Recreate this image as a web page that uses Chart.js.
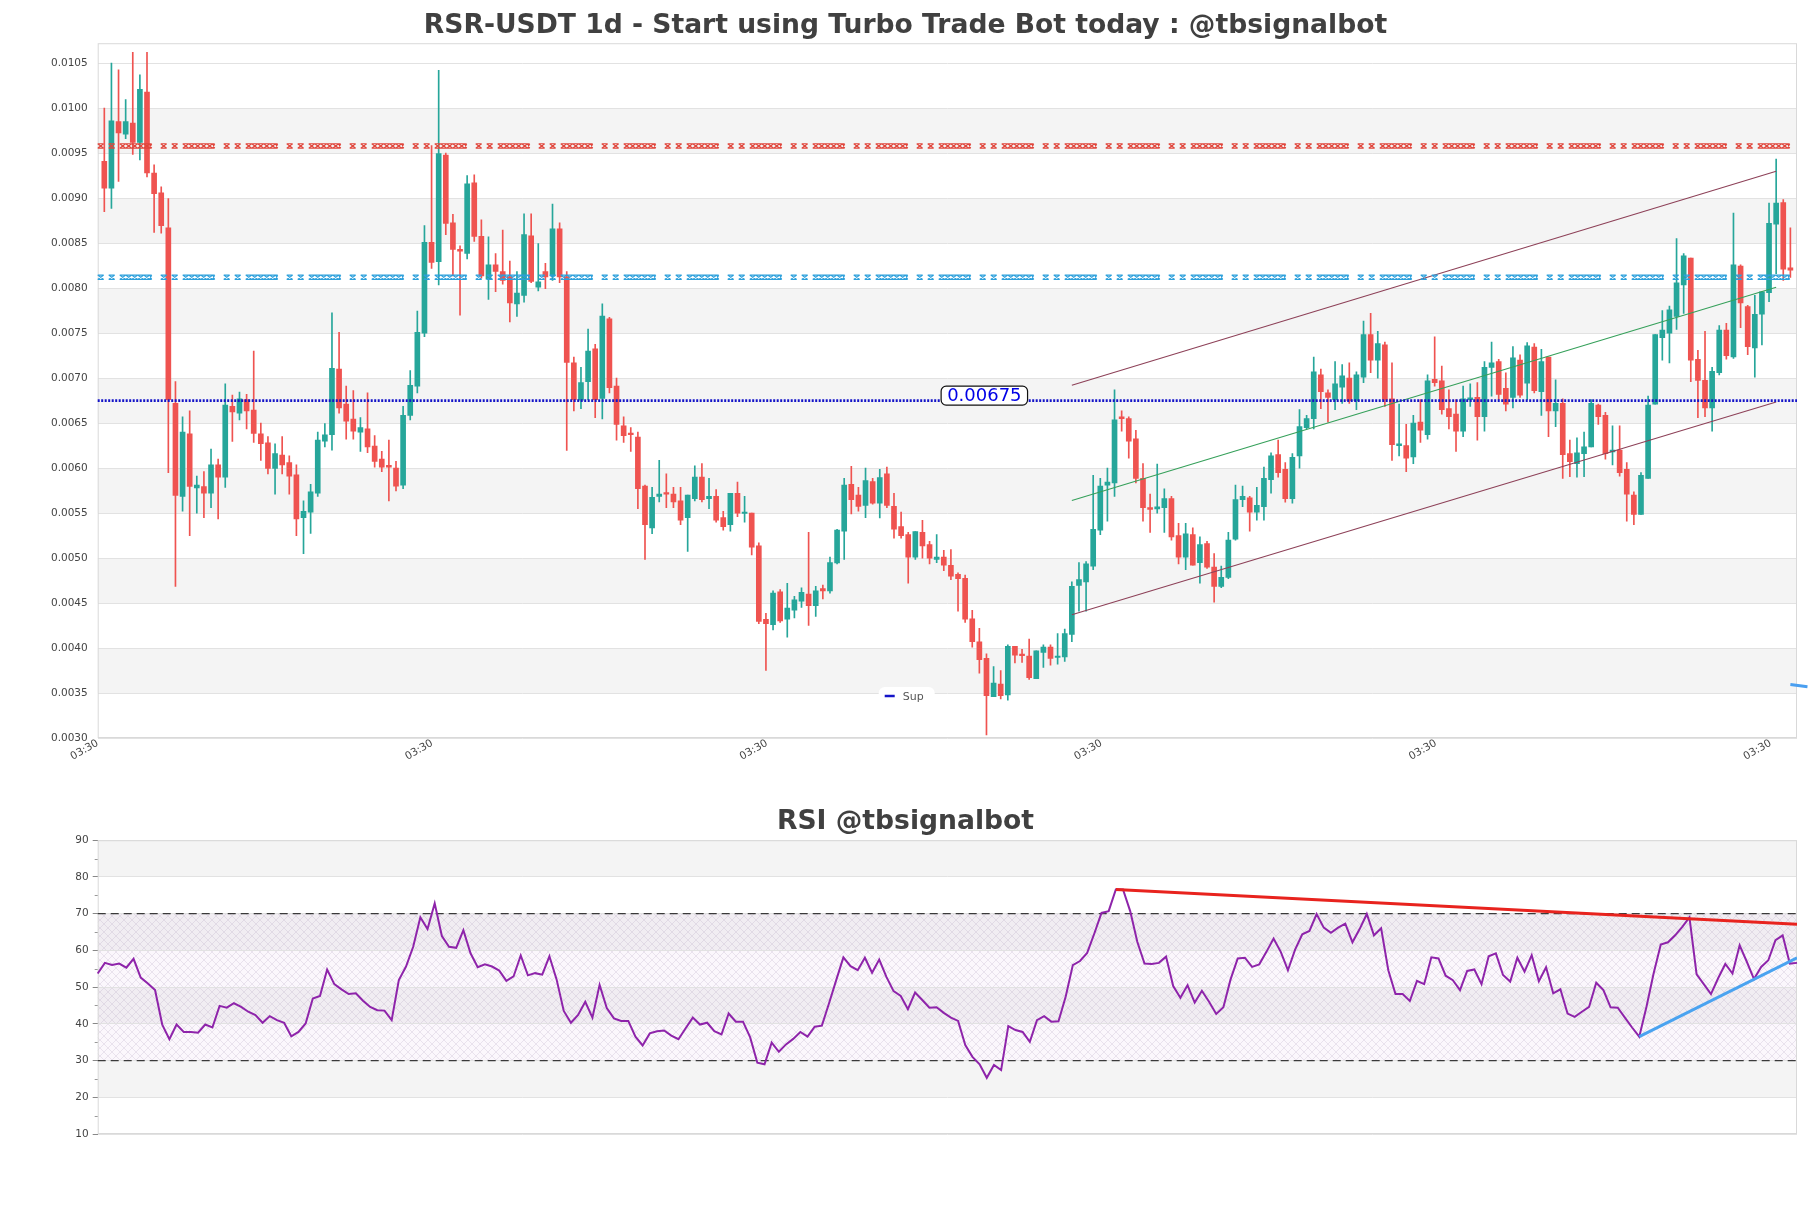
<!DOCTYPE html>
<html>
<head>
<meta charset="utf-8">
<title>RSR-USDT 1d</title>
<script src="https://cdn.jsdelivr.net/npm/chart.js@4.4.0/dist/chart.umd.min.js"></script>
<style>
  html, body { margin: 0; padding: 0; background: #fff; }
  #wrap { position: relative; width: 1811px; height: 1208px; }
  canvas { position: absolute; left: 0; }
</style>
</head>
<body>
<div id="wrap">
  <canvas id="priceChart" width="1811" height="780" style="top:0"></canvas>
  <canvas id="rsiChart" width="1811" height="428" style="top:780px"></canvas>
</div>
<script>
const UP = '#26a69a';
const DOWN = '#ef5350';

const opens = [
  0.00941, 0.00911, 0.00985, 0.00971, 0.009835, 0.00962, 0.01018, 0.00928, 0.00906, 0.00867,
  0.00672, 0.005685, 0.00638, 0.00578, 0.005795, 0.00572, 0.006035, 0.0059, 0.006685, 0.00661,
  0.00676, 0.006645, 0.00638, 0.00628, 0.005995, 0.006145, 0.00606, 0.005925, 0.00545, 0.00551,
  0.00572, 0.0063, 0.00637, 0.0071, 0.00671, 0.006545, 0.0064, 0.006435, 0.006245, 0.0061,
  0.00603, 0.006, 0.00581, 0.006585, 0.00691, 0.0075, 0.00851, 0.008295, 0.00948, 0.008725,
  0.00843, 0.008385, 0.00917, 0.008575, 0.0081, 0.00826, 0.008185, 0.008125, 0.007825, 0.00792,
  0.00858, 0.00801, 0.008185, 0.008135, 0.00866, 0.008125, 0.00717, 0.006755, 0.00696, 0.007325,
  0.006775, 0.00766, 0.00691, 0.00647, 0.00639, 0.006345, 0.0058, 0.005335, 0.005685, 0.00572,
  0.00571, 0.005635, 0.00545, 0.00566, 0.0059, 0.00566, 0.005685, 0.00545, 0.00537, 0.00572,
  0.005495, 0.0055, 0.005135, 0.00432, 0.00426, 0.004625, 0.00432, 0.00442, 0.00452, 0.0046,
  0.00447, 0.00466, 0.004635, 0.004945, 0.0053, 0.00582, 0.0057, 0.005585, 0.00585, 0.00561,
  0.005935, 0.005575, 0.00535, 0.00526, 0.00501, 0.005285, 0.00515, 0.004985, 0.00501, 0.00492,
  0.00482, 0.004775, 0.004325, 0.00407, 0.003885, 0.00346, 0.0036, 0.00348, 0.00402, 0.00393,
  0.00391, 0.00366, 0.00395, 0.00401, 0.003895, 0.0039, 0.00415, 0.004695, 0.004735, 0.00491,
  0.00531, 0.00581, 0.005835, 0.00657, 0.00655, 0.006325, 0.005885, 0.00556, 0.005545, 0.00556,
  0.00566, 0.00525, 0.00501, 0.00526, 0.00495, 0.00516, 0.0049, 0.004685, 0.004785, 0.00521,
  0.00565, 0.00567, 0.00551, 0.00557, 0.00587, 0.00615, 0.005985, 0.00566, 0.006135, 0.00645,
  0.00655, 0.007035, 0.006835, 0.00676, 0.0069, 0.007, 0.00675, 0.00701, 0.007485, 0.0072,
  0.00737, 0.00677, 0.00625, 0.00625, 0.006125, 0.00651, 0.00637, 0.006985, 0.00697, 0.00666,
  0.0066, 0.00641, 0.00676, 0.006785, 0.00657, 0.00712, 0.007185, 0.006885, 0.006785, 0.0072,
  0.006945, 0.007345, 0.00685, 0.007235, 0.006635, 0.00672, 0.00616, 0.00605, 0.00616, 0.006235,
  0.0067, 0.006585, 0.00618, 0.0062, 0.005985, 0.0057, 0.005485, 0.005885, 0.00671, 0.00745,
  0.0075, 0.007685, 0.008035, 0.008335, 0.00721, 0.006975, 0.00667, 0.00706, 0.007535, 0.007235,
  0.008245, 0.007795, 0.007335, 0.00771, 0.00795, 0.00871, 0.00895, 0.008225
];
const highs = [
  0.0100, 0.0105, 0.010425, 0.010095, 0.01062, 0.01037, 0.01062, 0.00937, 0.009125, 0.008995,
  0.00696, 0.00657, 0.006635, 0.00591, 0.00596, 0.00621, 0.0061, 0.006935, 0.00681, 0.006845,
  0.00682, 0.0073, 0.0065, 0.00635, 0.00627, 0.00635, 0.006135, 0.006035, 0.005635, 0.00582,
  0.0064, 0.006495, 0.007725, 0.00751, 0.00691, 0.00686, 0.00656, 0.006835, 0.00636, 0.006185,
  0.00631, 0.006075, 0.006685, 0.007085, 0.007745, 0.008695, 0.009585, 0.01042, 0.0095, 0.00882,
  0.00847, 0.00925, 0.00926, 0.00876, 0.00857, 0.008385, 0.008645, 0.0083, 0.008185, 0.008825,
  0.008825, 0.008495, 0.008275, 0.008935, 0.008725, 0.008185, 0.007235, 0.00712, 0.007545, 0.007375,
  0.007825, 0.007675, 0.0070, 0.00657, 0.00645, 0.0064, 0.00581, 0.005785, 0.006085, 0.005935,
  0.005785, 0.005785, 0.0057, 0.006025, 0.00605, 0.005885, 0.00576, 0.00552, 0.00572, 0.005845,
  0.005685, 0.0055, 0.00517, 0.004385, 0.004635, 0.00465, 0.00472, 0.004575, 0.00467, 0.005285,
  0.004685, 0.0047, 0.00501, 0.00532, 0.005885, 0.00602, 0.005785, 0.0060, 0.005885, 0.005985,
  0.00601, 0.00572, 0.00551, 0.005285, 0.005295, 0.00542, 0.005185, 0.00526, 0.005085, 0.005095,
  0.004835, 0.00481, 0.00442, 0.00422, 0.003935, 0.003795, 0.00375, 0.004035, 0.00402, 0.003985,
  0.0041, 0.00397, 0.004035, 0.004035, 0.00416, 0.00421, 0.004735, 0.00495, 0.00496, 0.00592,
  0.005885, 0.0060, 0.00687, 0.006635, 0.00657, 0.00642, 0.00605, 0.00571, 0.006045, 0.00577,
  0.005685, 0.005385, 0.005385, 0.005335, 0.005235, 0.005185, 0.00505, 0.00491, 0.005285, 0.00581,
  0.0058, 0.005685, 0.005785, 0.00601, 0.00617, 0.00631, 0.00606, 0.00616, 0.00665, 0.006585,
  0.007235, 0.0071, 0.00687, 0.007185, 0.00715, 0.00717, 0.00707, 0.007635, 0.00772, 0.00752,
  0.0074, 0.00717, 0.00671, 0.006485, 0.006585, 0.00676, 0.007035, 0.00746, 0.007135, 0.00687,
  0.00676, 0.00691, 0.006935, 0.00695, 0.007185, 0.0074, 0.00721, 0.00706, 0.00735, 0.00726,
  0.007395, 0.007385, 0.00732, 0.007235, 0.00698, 0.00677, 0.00631, 0.006335, 0.0064, 0.00676,
  0.00671, 0.00662, 0.00647, 0.00647, 0.00606, 0.005735, 0.00595, 0.0068, 0.007485, 0.00775,
  0.0078, 0.00855, 0.008385, 0.008335, 0.00731, 0.00752, 0.00712, 0.007585, 0.00761, 0.008835,
  0.00826, 0.00781, 0.00792, 0.00796, 0.008945, 0.009435, 0.008985, 0.00867
];
const lows = [
  0.00885, 0.008885, 0.009185, 0.00966, 0.009485, 0.009425, 0.009235, 0.00862, 0.00861, 0.00595,
  0.004685, 0.00552, 0.00525, 0.0055, 0.00545, 0.00556, 0.005435, 0.005785, 0.006295, 0.006535,
  0.006435, 0.006285, 0.006085, 0.005935, 0.00571, 0.005935, 0.00571, 0.00525, 0.00505, 0.005275,
  0.005685, 0.006235, 0.0062, 0.00661, 0.00632, 0.00632, 0.006185, 0.00617, 0.00601, 0.00596,
  0.005635, 0.005745, 0.00577, 0.006535, 0.006835, 0.00746, 0.00822, 0.008035, 0.008595, 0.008135,
  0.0077, 0.008325, 0.00852, 0.00811, 0.007875, 0.00796, 0.008045, 0.007625, 0.007685, 0.007845,
  0.00806, 0.00797, 0.007995, 0.008085, 0.00806, 0.006195, 0.006635, 0.00666, 0.00676, 0.00656,
  0.006545, 0.006835, 0.00631, 0.006285, 0.006185, 0.00555, 0.004985, 0.00527, 0.005625, 0.00556,
  0.00556, 0.00537, 0.005075, 0.005635, 0.005625, 0.00555, 0.0054, 0.00531, 0.0053, 0.00546,
  0.0054, 0.005035, 0.00427, 0.00375, 0.0042, 0.004285, 0.00412, 0.004335, 0.00445, 0.00425,
  0.00435, 0.004545, 0.00461, 0.004935, 0.004985, 0.00549, 0.00552, 0.00545, 0.0056, 0.005445,
  0.00556, 0.00522, 0.00522, 0.00472, 0.004985, 0.0050, 0.004935, 0.00495, 0.00486, 0.00476,
  0.00441, 0.004285, 0.00401, 0.00372, 0.003035, 0.00346, 0.003435, 0.00342, 0.003835, 0.00384,
  0.00365, 0.00366, 0.003785, 0.00381, 0.00382, 0.00385, 0.00407, 0.00441, 0.00441, 0.00487,
  0.00526, 0.00541, 0.005685, 0.00641, 0.00611, 0.005835, 0.00541, 0.005285, 0.0055, 0.005285,
  0.0052, 0.004935, 0.00487, 0.00492, 0.00472, 0.004885, 0.00451, 0.00467, 0.00477, 0.0052,
  0.00557, 0.0053, 0.00542, 0.00542, 0.00572, 0.0059, 0.00562, 0.00561, 0.0060, 0.006435,
  0.006435, 0.00666, 0.00651, 0.00665, 0.00672, 0.00672, 0.00665, 0.00695, 0.00706, 0.0070,
  0.006685, 0.006085, 0.006135, 0.00596, 0.00605, 0.006285, 0.00632, 0.00691, 0.0066, 0.006435,
  0.006185, 0.00635, 0.006685, 0.00631, 0.00641, 0.0068, 0.00676, 0.006635, 0.00667, 0.006785,
  0.00676, 0.006835, 0.006585, 0.00635, 0.00646, 0.005885, 0.005905, 0.0059, 0.005905, 0.006235,
  0.006485, 0.0061, 0.006035, 0.00591, 0.00541, 0.00537, 0.005485, 0.005885, 0.00671, 0.0072,
  0.00717, 0.00754, 0.00772, 0.00696, 0.00656, 0.00657, 0.00641, 0.007035, 0.00721, 0.00722,
  0.00756, 0.00726, 0.00701, 0.00737, 0.00785, 0.00816, 0.008085, 0.00812
];
const closes = [
  0.00911, 0.00986, 0.009725, 0.00985, 0.00962, 0.01021, 0.00928, 0.00905, 0.008695, 0.00676,
  0.005695, 0.0064, 0.005795, 0.00581, 0.00572, 0.006035, 0.0059, 0.0067, 0.006625, 0.00677,
  0.006635, 0.006385, 0.00627, 0.005995, 0.00616, 0.006035, 0.00591, 0.005435, 0.00552, 0.005735,
  0.00631, 0.00637, 0.00711, 0.00667, 0.00652, 0.00641, 0.00645, 0.006235, 0.006075, 0.00601,
  0.00601, 0.0058, 0.006585, 0.00692, 0.00751, 0.00851, 0.008285, 0.009495, 0.00872, 0.00843,
  0.00841, 0.00916, 0.008575, 0.008135, 0.00826, 0.008185, 0.008085, 0.007835, 0.007945, 0.008595,
  0.008075, 0.00807, 0.008125, 0.00866, 0.008125, 0.007175, 0.00676, 0.00695, 0.0073, 0.00676,
  0.00769, 0.006895, 0.006485, 0.00636, 0.00637, 0.00577, 0.00537, 0.005675, 0.00571, 0.00571,
  0.005625, 0.00542, 0.0057, 0.0059, 0.00565, 0.005685, 0.00542, 0.00535, 0.00572, 0.0055,
  0.00551, 0.00512, 0.004295, 0.00427, 0.00461, 0.0043, 0.004445, 0.004535, 0.00462, 0.00447,
  0.004635, 0.004635, 0.00495, 0.00531, 0.00581, 0.00565, 0.005575, 0.00586, 0.00561, 0.005895,
  0.005585, 0.00532, 0.00525, 0.00501, 0.005295, 0.005135, 0.0050, 0.00501, 0.00492, 0.0048,
  0.00477, 0.00432, 0.00407, 0.00387, 0.00347, 0.00361, 0.00347, 0.00402, 0.00392, 0.003915,
  0.00367, 0.00397, 0.00401, 0.003885, 0.00391, 0.00416, 0.004685, 0.00476, 0.004935, 0.00532,
  0.0058, 0.005845, 0.006535, 0.00655, 0.0063, 0.005885, 0.00556, 0.00554, 0.00557, 0.00566,
  0.005235, 0.00501, 0.00527, 0.00492, 0.00515, 0.0049, 0.004685, 0.004785, 0.0052, 0.00565,
  0.005685, 0.00551, 0.005585, 0.005885, 0.006135, 0.00595, 0.00566, 0.00612, 0.00646, 0.00655,
  0.00707, 0.00685, 0.006785, 0.006935, 0.007025, 0.00675, 0.007035, 0.007485, 0.0072, 0.007385,
  0.00676, 0.00626, 0.00627, 0.00611, 0.0065, 0.00642, 0.00697, 0.00695, 0.00665, 0.00657,
  0.00641, 0.00677, 0.00678, 0.00657, 0.00712, 0.00717, 0.00682, 0.00671, 0.007225, 0.00681,
  0.00736, 0.00686, 0.007185, 0.006635, 0.00672, 0.00615, 0.00607, 0.00617, 0.006235, 0.00672,
  0.00657, 0.00616, 0.0062, 0.00595, 0.00571, 0.005485, 0.00592, 0.0067, 0.007485, 0.007535,
  0.00776, 0.00806, 0.00836, 0.0072, 0.006975, 0.00667, 0.007075, 0.007535, 0.00725, 0.00826,
  0.007835, 0.00735, 0.00771, 0.00796, 0.00872, 0.008945, 0.00821, 0.0082
];

const rsiValues = [
  53.7, 56.6, 56.0, 56.4, 55.3, 57.7, 52.6, 51.0, 49.2, 39.8,
  35.8, 39.8, 37.8, 37.8, 37.6, 39.8, 39.0, 44.9, 44.4, 45.6,
  44.6, 43.3, 42.4, 40.3, 42.1, 41.0, 40.3, 36.6, 37.8, 40.1,
  46.9, 47.6, 54.8, 50.8, 49.4, 48.1, 48.3, 46.3, 44.6, 43.7,
  43.6, 41.0, 51.9, 55.6, 61.0, 69.0, 65.8, 72.8, 63.9, 61.0,
  60.7, 65.5, 59.2, 55.4, 56.2, 55.6, 54.5, 51.7, 52.9, 58.6,
  53.2, 53.8, 53.4, 58.4, 52.1, 43.5, 40.3, 42.4, 46.0, 41.7,
  50.6, 44.3, 41.5, 40.8, 40.8, 36.5, 34.1, 37.4, 38.0, 38.2,
  36.8, 35.8, 38.8, 41.7, 39.8, 40.3, 38.0, 37.1, 42.8, 40.6,
  40.6, 36.3, 29.4, 29.0, 34.9, 32.4, 34.4, 35.9, 37.8, 36.5,
  39.2, 39.5, 45.6, 51.9, 58.1, 55.7, 54.6, 58.0, 53.9, 57.5,
  52.8, 48.9, 47.6, 44.0, 48.5, 46.5, 44.4, 44.5, 43.0, 41.7,
  40.8, 34.2, 31.0, 29.0, 25.3, 28.8, 27.4, 39.4, 38.3, 37.8,
  35.1, 41.0, 42.1, 40.6, 40.7, 47.4, 56.0, 57.1, 59.3, 64.6,
  70.2, 70.7, 76.6, 76.6, 70.7, 62.3, 56.4, 56.3, 56.6, 58.3,
  50.3, 47.1, 50.5, 45.8, 49.0, 46.0, 42.7, 44.5, 52.1, 57.8,
  58.0, 55.5, 56.2, 59.6, 63.2, 59.6, 54.6, 60.2, 64.4, 65.3,
  69.9, 66.2, 64.8, 66.2, 67.3, 62.2, 65.8, 69.9, 64.1, 66.0,
  54.6, 48.1, 48.1, 46.2, 51.7, 50.8, 58.1, 57.8, 53.1, 51.9,
  49.2, 54.4, 54.8, 50.8, 58.4, 59.2, 53.3, 51.5, 58.0, 54.2,
  58.7, 51.6, 55.4, 48.3, 49.4, 42.8, 41.9, 43.3, 44.6, 51.2,
  49.2, 44.5, 44.4, 41.7, 39.0, 36.5, 44.6, 53.7, 61.6, 62.2,
  64.1, 66.4, 69.0, 53.5, 50.8, 48.1, 52.4, 56.3, 53.7, 61.4,
  56.9, 52.2, 55.5, 57.3, 62.8, 64.1, 56.4, 56.6, 56.4
];

const resistance = 0.00958;
const midLevel = 0.00812;
const support = 0.00675;
const supLabelAt = 123.7;

const channelX = [136, 235];
const channelUpper = [0.00692, 0.0093];
const channelMid = [0.00564, 0.00801];
const channelLower = [0.00437, 0.006735];
const tailX = [237, 239.4];
const tailY = [0.003595, 0.00357];

const rsiDownX = [142, 237];
const rsiDownY = [76.6, 67.1];
const rsiUpX = [215, 237];
const rsiUpY = [36.5, 58.0];

const xMin = -0.93, xMax = 237.93, xTickStep = 47.03;
const xTickLabel = '03:30';

Chart.defaults.font.family = '"DejaVu Sans", sans-serif';
Chart.defaults.color = '#444';

const idx = opens.map((_, i) => i);
const candleColors = idx.map(i => closes[i] >= opens[i] ? UP : DOWN);
const pts = (xs, ys) => xs.map((x, i) => ({x: x, y: ys[i]}));

// grey band between every second pair of ticks
const bandsPlugin = {
  id: 'bands',
  beforeDraw(chart) {
    const {ctx, chartArea: a, scales: {y}} = chart;
    ctx.save();
    ctx.fillStyle = '#f4f4f4';
    for (let i = 1; i + 1 < y.ticks.length; i += 2) {
      const top = y.getPixelForValue(y.ticks[i + 1].value);
      const bot = y.getPixelForValue(y.ticks[i].value);
      ctx.fillRect(a.left, top, a.right - a.left, bot - top);
    }
    ctx.restore();
  },
  beforeDatasetsDraw(chart) {
    const {ctx, chartArea: a} = chart;
    ctx.save();
    ctx.strokeStyle = '#d9d9d9';
    ctx.lineWidth = 1;
    ctx.strokeRect(a.left + 0.5, a.top + 0.5, a.right - a.left - 1, a.bottom - a.top - 1);
    ctx.restore();
  }
};

function hLine(ctx, a, yPix, color, width, dash) {
  ctx.save();
  ctx.strokeStyle = color;
  ctx.lineWidth = width;
  ctx.setLineDash(dash);
  ctx.beginPath();
  ctx.moveTo(a.left, yPix);
  ctx.lineTo(a.right, yPix);
  ctx.stroke();
  ctx.restore();
}

// level drawn as runs of little crossed cells: x  x  xxxxx
function crossLine(ctx, a, yPix, color) {
  const runs = [[0, 6], [11, 17], [22, 54]];
  const period = 63, cw = 6, hh = 2.2;
  ctx.save();
  ctx.strokeStyle = color;
  ctx.lineWidth = 1.1;
  ctx.beginPath();
  for (let p = a.left; p < a.right; p += period) {
    runs.forEach(([s, e]) => {
      const x0 = p + s, x1 = Math.min(p + e, a.right);
      if (x0 >= a.right) return;
      ctx.moveTo(x0, yPix - hh); ctx.lineTo(x1, yPix - hh);
      ctx.moveTo(x0, yPix + hh); ctx.lineTo(x1, yPix + hh);
      for (let c = x0; c < x1; c += cw) {
        const c1 = Math.min(c + cw, x1);
        ctx.moveTo(c, yPix - hh); ctx.lineTo(c1, yPix + hh);
        ctx.moveTo(c, yPix + hh); ctx.lineTo(c1, yPix - hh);
      }
    });
  }
  ctx.stroke();
  ctx.restore();
}

const levelsPlugin = {
  id: 'levels',
  afterDatasetsDraw(chart) {
    const {ctx, chartArea: a, scales: {x, y}} = chart;
    crossLine(ctx, a, y.getPixelForValue(resistance), '#e0463c');
    crossLine(ctx, a, y.getPixelForValue(midLevel), '#2b9fdb');
    const sy = y.getPixelForValue(support);
    hLine(ctx, a, sy, '#1414c8', 2.6, [2, 1.5]);

    ctx.save();
    ctx.font = '18px "DejaVu Sans"';
    const text = support.toFixed(5);
    const w = ctx.measureText(text).width + 12;
    const h = 19;
    const cx = x.getPixelForValue(supLabelAt);
    const cy = sy - 5;
    ctx.beginPath();
    ctx.roundRect(cx - w / 2, cy - h / 2, w, h, 5);
    ctx.fillStyle = '#fff';
    ctx.fill();
    ctx.strokeStyle = '#111';
    ctx.lineWidth = 1.2;
    ctx.stroke();
    ctx.fillStyle = '#0000e6';
    ctx.textAlign = 'center';
    ctx.textBaseline = 'middle';
    ctx.fillText(text, cx, cy + 1);

    // legend
    const lx = a.left + 781, ly = a.bottom - 42;
    ctx.beginPath();
    ctx.roundRect(lx, ly - 9, 56, 18, 6);
    ctx.fillStyle = '#fff';
    ctx.fill();
    ctx.strokeStyle = '#1414c8';
    ctx.lineWidth = 2.5;
    ctx.setLineDash([]);
    ctx.beginPath();
    ctx.moveTo(lx + 6, ly);
    ctx.lineTo(lx + 16, ly);
    ctx.stroke();
    ctx.font = '11px "DejaVu Sans"';
    ctx.fillStyle = '#555';
    ctx.textAlign = 'left';
    ctx.fillText('Sup', lx + 24, ly + 1);
    ctx.restore();
  }
};

new Chart(document.getElementById('priceChart'), {
  type: 'bar',
  data: {
    datasets: [
      {
        label: 'wick',
        data: idx.map(i => ({x: i, y: [lows[i], highs[i]]})),
        backgroundColor: candleColors,
        barThickness: 1,
        grouped: false,
        order: 5
      },
      {
        label: 'body',
        data: idx.map(i => ({x: i, y: [opens[i], closes[i]]})),
        backgroundColor: candleColors,
        barThickness: 5,
        minBarLength: 1.5,
        grouped: false,
        order: 4
      },
      {
        type: 'line', label: 'upper', data: pts(channelX, channelUpper),
        borderColor: '#8d4158', borderWidth: 1.1, pointRadius: 0, order: 3
      },
      {
        type: 'line', label: 'mid', data: pts(channelX, channelMid),
        borderColor: '#35a05a', borderWidth: 1.1, pointRadius: 0, order: 3
      },
      {
        type: 'line', label: 'lower', data: pts(channelX, channelLower),
        borderColor: '#8d4158', borderWidth: 1.1, pointRadius: 0, order: 3
      },
      {
        type: 'line', label: 'tail', data: pts(tailX, tailY),
        borderColor: '#4a9ff0', borderWidth: 3, pointRadius: 0, clip: false, order: 2
      }
    ]
  },
  options: {
    responsive: false,
    animation: false,
    events: [],
    layout: { padding: { left: 14, right: 14, top: 0, bottom: 0 } },
    plugins: {
      legend: { display: false },
      tooltip: { enabled: false },
      title: {
        display: true,
        text: 'RSR-USDT 1d - Start using Turbo Trade Bot today : @tbsignalbot',
        color: '#404040',
        font: { size: 26.6, weight: 'bold' },
        padding: { top: 10, bottom: 1.3 }
      }
    },
    scales: {
      x: {
        type: 'linear',
        min: xMin,
        max: xMax,
        offset: false,
        grid: { display: false },
        border: { display: false },
        afterBuildTicks(scale) {
          const ticks = [];
          for (let v = xMin; v <= xMax; v += xTickStep) ticks.push({ value: v });
          scale.ticks = ticks;
        },
        afterFit(scale) { scale.height = 42; },
        ticks: {
          autoSkip: false,
          maxRotation: 30,
          minRotation: 30,
          padding: -9,
          color: '#444',
          font: { size: 10.5 },
          callback: () => xTickLabel
        }
      },
      y: {
        min: 0.003,
        max: 0.010722,
        grid: { color: '#e2e2e2', drawTicks: false },
        border: { display: false },
        afterFit(scale) { scale.width = 83.7; },
        ticks: {
          stepSize: 0.0005,
          includeBounds: false,
          padding: 10,
          color: '#444',
          font: { size: 10.5 },
          callback: v => v.toFixed(4)
        }
      }
    }
  },
  plugins: [bandsPlugin, levelsPlugin]
});

// hatch between 30 and 70
const tile = document.createElement('canvas');
tile.width = 8;
tile.height = 8;
const tc = tile.getContext('2d');
tc.fillStyle = 'rgba(215, 180, 225, 0.10)';
tc.fillRect(0, 0, 8, 8);
tc.strokeStyle = 'rgba(175, 160, 190, 0.35)';
tc.lineWidth = 0.7;
tc.beginPath();
tc.moveTo(0, 0); tc.lineTo(8, 8);
tc.moveTo(8, 0); tc.lineTo(0, 8);
tc.stroke();

const rsiZonePlugin = {
  id: 'rsiZone',
  beforeDraw(chart) {
    const {ctx, chartArea: a, scales: {y}} = chart;
    const top = y.getPixelForValue(70), bot = y.getPixelForValue(30);
    ctx.save();
    ctx.fillStyle = ctx.createPattern(tile, 'repeat');
    ctx.fillRect(a.left, top, a.right - a.left, bot - top);
    ctx.restore();
  },
  beforeDatasetsDraw(chart) {
    const {ctx, chartArea: a, scales: {y}} = chart;
    hLine(ctx, a, y.getPixelForValue(70), '#3a3a3a', 1.3, [8, 5]);
    hLine(ctx, a, y.getPixelForValue(30), '#3a3a3a', 1.3, [8, 5]);
    ctx.save();
    ctx.strokeStyle = '#999';
    ctx.lineWidth = 1;
    for (let v = 15; v < 90; v += 10) {
      const py = Math.round(y.getPixelForValue(v)) + 0.5;
      ctx.beginPath();
      ctx.moveTo(a.left - 3, py);
      ctx.lineTo(a.left, py);
      ctx.stroke();
    }
    ctx.restore();
  }
};

new Chart(document.getElementById('rsiChart'), {
  type: 'line',
  data: {
    datasets: [
      {
        label: 'RSI',
        data: rsiValues.map((v, j) => ({x: j, y: v})),
        borderColor: '#8e24aa',
        borderWidth: 2,
        pointRadius: 0,
        tension: 0,
        clip: false,
        order: 3
      },
      {
        label: 'down',
        data: pts(rsiDownX, rsiDownY),
        borderColor: '#e8231e',
        borderWidth: 3,
        pointRadius: 0,
        order: 2
      },
      {
        label: 'up',
        data: pts(rsiUpX, rsiUpY),
        borderColor: '#4aa3f0',
        borderWidth: 3,
        pointRadius: 0,
        order: 1
      }
    ]
  },
  options: {
    responsive: false,
    animation: false,
    events: [],
    layout: { padding: { left: 14, right: 14, top: 0, bottom: 74 } },
    plugins: {
      legend: { display: false },
      tooltip: { enabled: false },
      title: {
        display: true,
        text: 'RSI @tbsignalbot',
        color: '#404040',
        font: { size: 26.6, weight: 'bold' },
        padding: { top: 26, bottom: 2.3 }
      }
    },
    scales: {
      x: {
        type: 'linear',
        min: 0,
        max: 237,
        display: false
      },
      y: {
        min: 10,
        max: 90,
        grid: { color: '#e2e2e2', tickColor: '#888', tickLength: 5 },
        border: { display: false },
        afterFit(scale) { scale.width = 83.7; },
        ticks: {
          stepSize: 10,
          padding: 4,
          color: '#444',
          font: { size: 10.5 },
          callback: v => v
        }
      }
    }
  },
  plugins: [bandsPlugin, rsiZonePlugin]
});
</script>
</body>
</html>
